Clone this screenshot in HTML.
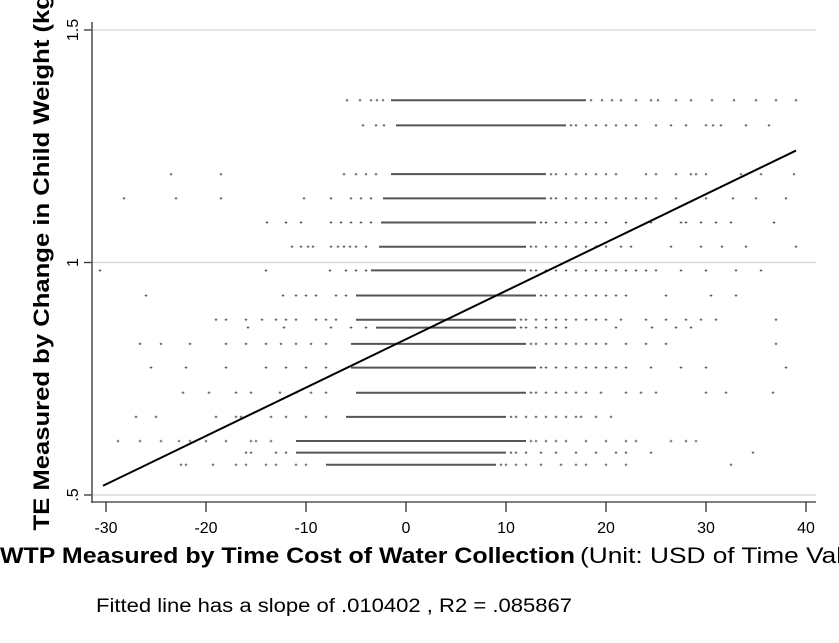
<!DOCTYPE html>
<html><head><meta charset="utf-8"><style>
html,body{margin:0;padding:0;background:#fff;overflow:hidden}
svg{display:block;font-family:"Liberation Sans",Arial,sans-serif}
</style></head><body>
<svg id="chart" width="839" height="643" viewBox="0 0 839 643">
<g id="grid"></g>
<g id="dots"></g>
<g id="fit"></g>
<g id="axes"></g>
<text transform="translate(49,258) rotate(-90)" text-anchor="middle" font-size="22" font-weight="bold" textLength="545" lengthAdjust="spacingAndGlyphs">TE Measured by Change in Child Weight (kg)</text>
<text x="0" y="563" font-size="22"><tspan font-weight="bold" textLength="575" lengthAdjust="spacingAndGlyphs">WTP Measured by Time Cost of Water Collection</tspan><tspan dx="5" textLength="300" lengthAdjust="spacingAndGlyphs">(Unit: USD of Time Value)</tspan></text>
<text x="96" y="612" font-size="19" textLength="476" lengthAdjust="spacingAndGlyphs">Fitted line has a slope of .010402 , R2 = .085867</text>
</svg>
<script>
const rowValues=[1.349,1.295,1.19,1.138,1.086,1.034,0.983,0.929,0.877,0.86,0.825,0.774,0.72,0.668,0.616,0.591,0.565];
const denseStart=[-1.5,-1,-1.5,-2.3,-2.5,-2.7,-3.5,-5,-5,-3,-5.5,-5.5,-5,-6,-11,-11,-8];
const denseEnd=[18,16,14,14,13,12,12,13,11,11,12,13,12,10,12,10,9];
const sparsePts=[
[-5.9,-4.6,-3.5,-2.9,-2.3,18.5,19.6,20.6,21.5,23,24.5,25.2,27,28.5,30.6,32.8,35,37,39],
[-4.3,-3,-2.2,16.5,17,18,19,20,21,22,23,25,26.5,28,30,30.7,31.5,34,36.3],
[-23.5,-18.5,-6.2,-5,-4,-3,14.5,15,16,17,18,19,20,21,24,25,27,28.5,29,30,33.5,35.5,38.8],
[-28.2,-23,-18.5,-10.2,-7.5,-5.5,-4.5,-3.5,14.5,15,16,17,18,19,20,21,22,23,24,25,27,30,32.7,35,38],
[-13.9,-12,-10.5,-7.5,-6.5,-5.5,-4.5,-3.5,13.5,14,15,16,17,18,19,20,22,24.5,27.5,28,29.5,31,32.5,36.8],
[-11.4,-10.5,-9.8,-9.3,-7.5,-6.8,-6.2,-5.6,-5,-4,12.5,13,14,15,16,17,18,19,20,21.5,22.5,26.5,29.5,31.6,34,39],
[-30.6,-14,-7.6,-6,-5,-4,12.5,13,14,15,16,17,18,19,20,21,22,23,24,25,27.5,30,33,35.5],
[-26,-12.3,-11,-10,-9,-7,-6,13.5,14,15,16,17,18,19,20,21,22,26,30.5,33],
[-19,-18,-16,-14.4,-13,-12,-11,-9,-8,-7,11.5,12,13,14,15,16,17,18,19,20,21.5,24,26,28,29.5,31,37],
[-15.8,-12.2,-7.5,-5.5,-4,11.5,12,13,14,15,16,21,24.6,27,28.5],
[-26.6,-24.5,-21.6,-18,-16,-14,-12.5,-11,-9.5,-8,12.5,13,14,15,16,17,18,19,20,22,24,26,37],
[-25.5,-22,-18,-14,-12,-10,-8,13.5,14,15,16,17,18,19,20,21,22,24.5,27.5,30,38],
[-22.3,-19.7,-17,-15.5,-12.6,-11,-9.5,-8,12.5,13,14,15,16,17,18,19.5,22,23.5,25,30,32,36.7],
[-27,-25,-19,-17,-16.5,-13.5,-12,-10,-8,10.5,11,12,13,14,15,16,17,17.5,19,20.5],
[-28.8,-26.6,-24.5,-22.7,-21.6,-20,-18,-15.5,-15,-13.5,12.5,13,14,15,16,18,20,22,23,26.5,28,29],
[-16,-15.5,-13,-12,10.5,11,12,13.5,15,17,19,21,22,24.5,34.7],
[-22.5,-22,-19.3,-17,-16,-14,-13,-11,-10,9.5,10,11,12,13.5,15.5,17,18,20,22,32.5]
];
const fitSlope=0.010402;
const fitIntercept=0.835;
const fitRange=[-30.3,39];
const xTicks=[-30,-20,-10,0,10,20,30,40];
const xTickLabels=["-30","-20","-10","0","10","20","30","40"];
const yTicks=[0.5,1,1.5];
const yTickLabels=[".5","1","1.5"];

const NS="http://www.w3.org/2000/svg";
const X=v=>406+v*10.0;
const Y=v=>30+(1.5-v)*465;
function mk(tag,attrs,parent){const e=document.createElementNS(NS,tag);for(const k in attrs)e.setAttribute(k,attrs[k]);parent.appendChild(e);return e;}
const grid=document.getElementById('grid'),dots=document.getElementById('dots'),fit=document.getElementById('fit'),axes=document.getElementById('axes');
yTicks.forEach((t,i)=>{
  const g=mk('line',{x1:92,x2:816,y1:Y(t),y2:Y(t),stroke:'#d4d4d4','stroke-width':1.2},grid);
  
  
  const tk=mk('line',{x1:84,x2:92,y1:Y(t),y2:Y(t),stroke:'#333','stroke-width':1.3},axes);
  
  
  const tl=mk('text',{transform:`translate(78,${Y(t)}) rotate(-90)`,'text-anchor':'middle','font-size':16},axes);
  tl.textContent=yTickLabels[i];
  
  
});
rowValues.forEach((rv,i)=>{
  const y=Y(rv);
  const seg=mk('line',{x1:X(denseStart[i]),x2:X(denseEnd[i]),y1:y,y2:y,stroke:'#555','stroke-width':2},dots);
  
  
  sparsePts[i].forEach(xv=>{
    const p=mk('path',{d:`M${X(xv)-1.3},${y}h2.6M${X(xv)},${y-1.3}v2.6`,stroke:'#555','stroke-width':0.9},dots);
    
    
  });
});
const fl=mk('line',{x1:X(fitRange[0]),y1:Y(fitIntercept+fitSlope*fitRange[0]),x2:X(fitRange[1]),y2:Y(fitIntercept+fitSlope*fitRange[1]),stroke:'#000','stroke-width':2},fit);


const ya=mk('line',{x1:92,x2:92,y1:22,y2:503,stroke:'#555','stroke-width':1.6},axes);


const xa=mk('line',{x1:91,x2:816,y1:502,y2:502,stroke:'#555','stroke-width':1.6},axes);


xTicks.forEach((t,i)=>{
  const tk=mk('line',{x1:X(t),x2:X(t),y1:502,y2:512,stroke:'#333','stroke-width':1.3},axes);
  
  
  const tl=mk('text',{x:X(t),y:533,'text-anchor':'middle','font-size':16},axes);
  tl.textContent=xTickLabels[i];
  
  
});
</script>
</body></html>
